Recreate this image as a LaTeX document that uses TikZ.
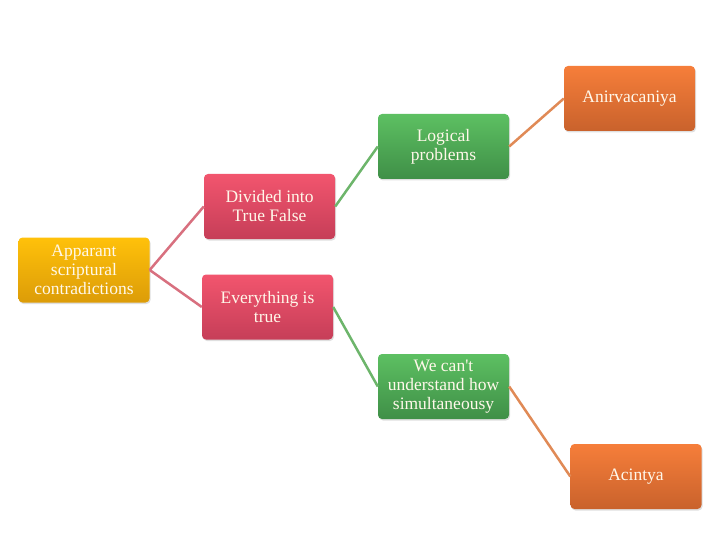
\documentclass[tikz,border=0pt]{standalone}
\usepackage{fontspec}
\setmainfont{Liberation Serif}
\usepackage{textcomp}
\usetikzlibrary{shadows}
\definecolor{txt}{HTML}{FFF8EA}
\definecolor{goldT}{HTML}{FFC10A}
\definecolor{goldB}{HTML}{DC9C08}
\definecolor{redT}{HTML}{F2556E}
\definecolor{redB}{HTML}{C63E58}
\definecolor{grnT}{HTML}{5DC062}
\definecolor{grnB}{HTML}{3F8F47}
\definecolor{orT}{HTML}{F67E3A}
\definecolor{orB}{HTML}{C9622C}
\definecolor{lnPink}{HTML}{D8707F}
\definecolor{lnGreen}{HTML}{6DB56B}
\definecolor{lnOrange}{HTML}{E08A56}
\tikzset{
  box/.style={rectangle, rounded corners=4pt, minimum width=131pt, minimum height=65pt,
    inner sep=2pt, align=center, text=txt,
    font=\fontsize{17.5}{19}\selectfont,
    drop shadow={shadow xshift=1pt, shadow yshift=-1.5pt, opacity=0.25}},
  goldbox/.style={box, top color=goldT, bottom color=goldB},
  redbox/.style={box, top color=redT, bottom color=redB},
  grnbox/.style={box, top color=grnT, bottom color=grnB},
  orbox/.style={box, top color=orT, bottom color=orB},
  conn/.style={line width=2.5pt},
}
\begin{document}
\begin{tikzpicture}[x=1pt,y=-1pt]
\useasboundingbox (0,0) rectangle (720,540);
\node[goldbox] (ap) at (84,270) {Apparant\\scriptural\\contradictions};
\node[redbox] (dv) at (269.5,206.5) {Divided into\\True False};
\node[redbox] (ev) at (267.5,307) {Everything is\\true};
\node[grnbox] (lg) at (443.5,146.5) {Logical\\problems};
\node[grnbox] (wc) at (443.5,386.5) {We can\textquotesingle t\\understand how\\simultaneousy};
\node[orbox] (an) at (629.5,98.5) {Anirvacaniya};
\node[orbox] (ac) at (636,476.5) {Acintya};
\draw[conn, lnPink] (ap.east) -- (dv.west);
\draw[conn, lnPink] (ap.east) -- (ev.west);
\draw[conn, lnGreen] (dv.east) -- (lg.west);
\draw[conn, lnGreen] (ev.east) -- (wc.west);
\draw[conn, lnOrange] (lg.east) -- (an.west);
\draw[conn, lnOrange] (wc.east) -- (ac.west);
\end{tikzpicture}
\end{document}
